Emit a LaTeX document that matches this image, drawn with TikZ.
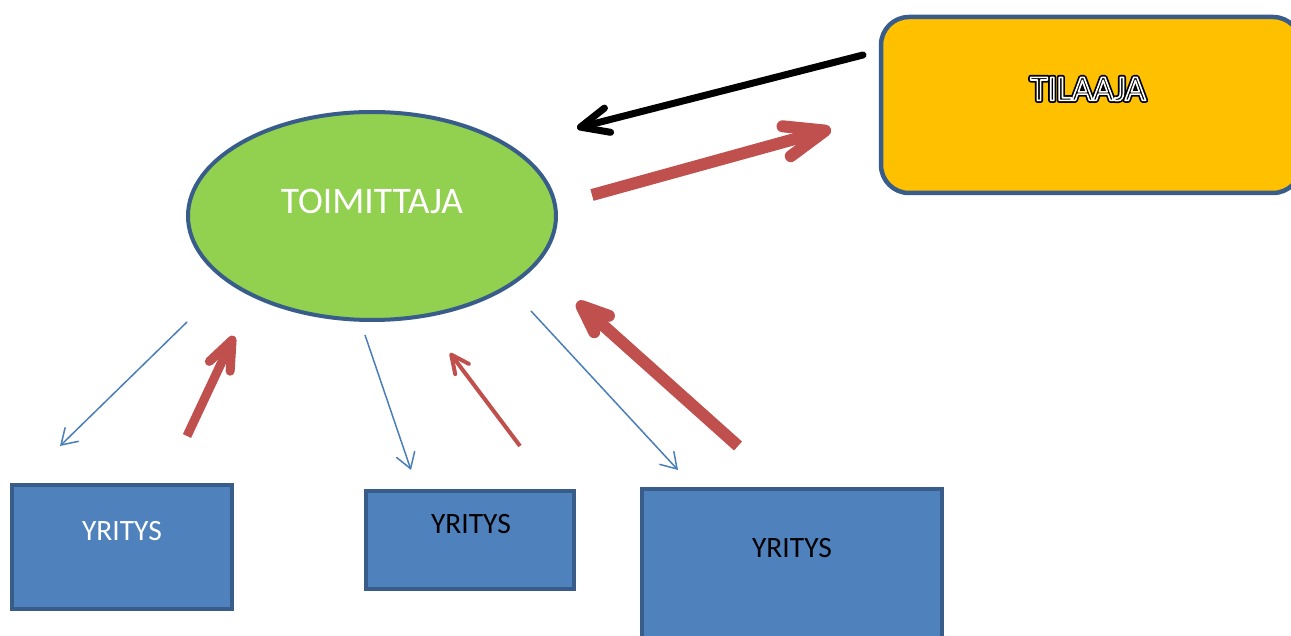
\documentclass[tikz,border=0pt]{standalone}
\usepackage{fontspec}
\setmainfont{Carlito}
\usetikzlibrary{arrows.meta,shapes.geometric}
\definecolor{greenf}{HTML}{92D050}
\definecolor{bluebd}{HTML}{385D8A}
\definecolor{bluef}{HTML}{4F81BD}
\definecolor{orangef}{HTML}{FFC000}
\definecolor{redc}{HTML}{C0504D}
\definecolor{bluel}{HTML}{4A7EBB}
% text drawn with fill + stroke (PDF text render mode 2)
\newcommand\myoutline[3]{\special{pdf:literal direct #1 w 1 j #2 2 Tr}#3\special{pdf:literal direct 0 Tr}}
\begin{document}
\begin{tikzpicture}[x=1pt,y=-1pt,
  firm/.style={draw=bluebd, fill=bluef, line width=4.5pt, inner sep=0pt},
  lbl/.style={inner sep=0pt, font=\fontsize{29.5}{32}\selectfont},
  tillbl/.style={inner sep=0pt, font=\fontsize{36}{38}\selectfont},
  thinblue/.style={draw=bluel, line width=1.5pt, -{Straight Barb[length=15pt,width=19pt,line cap=round]}},
  bigred/.style={draw=redc, line width=12pt, -{Straight Barb[length=40pt,width=31pt,line cap=round,line join=round]}},
  bigredb/.style={draw=redc, line width=12pt, -{Straight Barb[length=27pt,width=22pt,line cap=round,line join=round]}},
  midred/.style={draw=redc, line width=9pt, -{Straight Barb[length=29pt,width=23pt,line cap=round,line join=round]}},
  smallred/.style={draw=redc, line width=4pt, -{Straight Barb[length=18pt,width=17pt,line cap=round,line join=round]}},
  blackarr/.style={draw=black, line width=7pt, line cap=round, -{Straight Barb[length=28pt,width=25pt,line cap=round,line join=round]}}
]
\useasboundingbox (0,0) rectangle (1291,636);
\fill[white] (0,0) rectangle (1291,636);

% nodes
\node[ellipse, draw=bluebd, fill=greenf, line width=4pt, minimum width=368pt, minimum height=208pt, inner sep=0pt] (toim) at (372,216) {};
\node[lbl, text=white, font=\fontsize{37.5}{40}\selectfont] (toimt) at (372,201) {TOIMITTAJA};

\node[draw=bluebd, fill=orangef, line width=4.5pt, rounded corners=28pt, minimum width=420pt, minimum height=176pt, inner sep=0pt] (til) at (1091,105) {};
\node[tillbl, text=black] (tilo) at (1088,89) {\myoutline{5}{0 G}{TILAAJA}};
\node[tillbl, text=black] (tilt) at (tilo.center) {\myoutline{1.6}{1 G}{TILAAJA}};

\node[firm, minimum width=220pt, minimum height=124pt] (y1) at (122,547) {};
\node[lbl, text=white] (y1t) at (122,531) {YRITYS};
\node[firm, minimum width=208pt, minimum height=98pt] (y2) at (470,540) {};
\node[lbl] (y2t) at (471,524) {YRITYS};
\node[firm, minimum width=300pt, minimum height=172pt] (y3) at (792,575) {};
\node[lbl] (y3t) at (792,548) {YRITYS};

% arrow end points
\coordinate (bA) at (863,55);  \coordinate (bB) at (577,128);
\coordinate (rA) at (592,195); \coordinate (rB) at (831,129);
\coordinate (u1A) at (187,322); \coordinate (u1B) at (60,446);
\coordinate (u2A) at (365,335); \coordinate (u2B) at (411,470);
\coordinate (u3A) at (531,311); \coordinate (u3B) at (678,470);
\coordinate (r1A) at (187,436); \coordinate (r1B) at (234,336);
\coordinate (r2A) at (520,446); \coordinate (r2B) at (450,353);
\coordinate (r3A) at (738,446); \coordinate (r3B) at (577,302);

\draw[blackarr] (bA) -- (bB);
\draw[bigred] (rA) -- (rB);
\draw[thinblue] (u1A) -- (u1B);
\draw[thinblue] (u2A) -- (u2B);
\draw[thinblue] (u3A) -- (u3B);
\draw[midred] (r1A) -- (r1B);
\draw[smallred] (r2A) -- (r2B);
\draw[bigredb] (r3A) -- (r3B);
\end{tikzpicture}
\end{document}
